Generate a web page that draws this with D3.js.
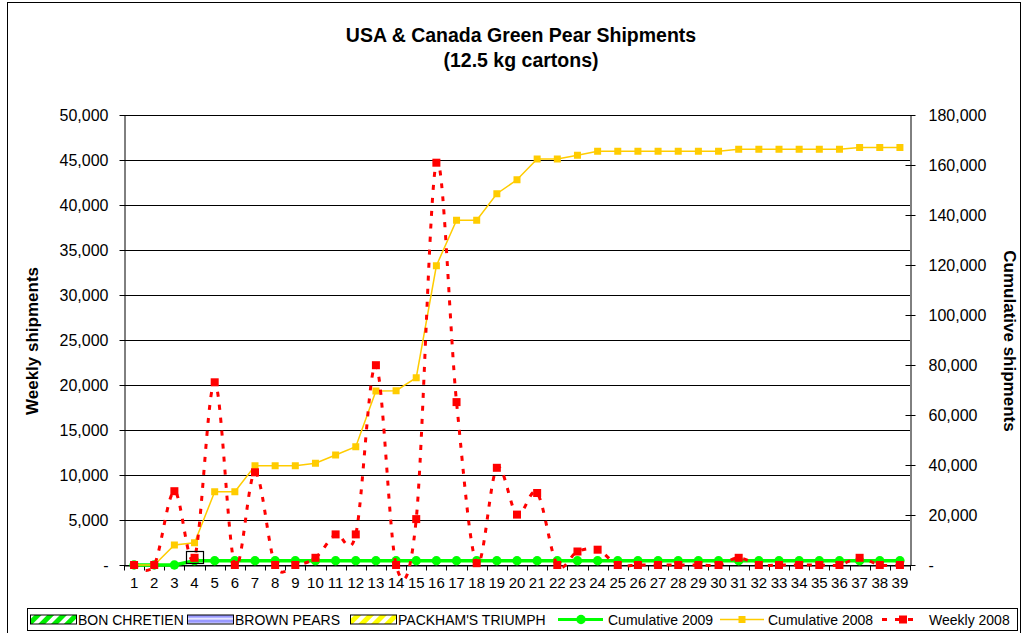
<!DOCTYPE html>
<html>
<head>
<meta charset="utf-8">
<script src="https://cdn.jsdelivr.net/npm/d3@7"></script>
<style>
  body { margin: 0; background: #fff; }
  svg { display: block; font-family: "Liberation Sans", Arial, sans-serif; }
</style>
</head>
<body>
<svg id="chart" width="1024" height="633"></svg>
<script>
// week numbers on the category axis
const weeks = d3.range(1, 40);

// variety bars (no shipments recorded in the period shown)
const bonChretien = [0,0,0,0,0,0,0,0,0,0,0,0,0,0,0,0,0,0,0,0,0,0,0,0,0,0,0,0,0,0,0,0,0,0,0,0,0,0,0];
const brownPears = [0,0,0,0,0,0,0,0,0,0,0,0,0,0,0,0,0,0,0,0,0,0,0,0,0,0,0,0,0,0,0,0,0,0,0,0,0,0,0];
const packhams = [0,0,0,0,0,0,0,0,0,0,0,0,0,0,0,0,0,0,0,0,0,0,0,0,0,0,0,0,0,0,0,0,0,0,0,0,0,0,0];

// right axis
const cumulative2009 = [0, 0, 0, 1700, 1700, 1700, 1700, 1700, 1700, 1700,
  1700, 1700, 1700, 1700, 1700, 1700, 1700, 1700, 1700, 1700,
  1700, 1700, 1700, 1700, 1700, 1700, 1700, 1700, 1700, 1700,
  1700, 1700, 1700, 1700, 1700, 1700, 1700, 1700, 1700];
const cumulative2008 = [0, 0, 8000, 8900, 29300, 29300, 39700, 39700, 39700, 40700,
  44000, 47300, 69600, 69700, 74900, 119700, 137900, 137900, 148500, 154100,
  162400, 162400, 163900, 165500, 165500, 165500, 165500, 165500, 165500, 165500,
  166300, 166300, 166300, 166300, 166300, 166300, 167000, 167000, 167000];

// left axis
const weekly2008 = [0, 0, 8200, 800, 20300, 0, 10300, 0, 0, 800,
  3400, 3400, 22200, 0, 5100, 44700, 18100, 200, 10800, 5600,
  8000, 0, 1500, 1700, 0, 0, 0, 0, 0, 0,
  800, 0, 0, 0, 0, 0, 800, 0, 0];

const leftTicks = [0, 5000, 10000, 15000, 20000, 25000, 30000, 35000, 40000, 45000, 50000];
const rightTicks = [0, 20000, 40000, 60000, 80000, 100000, 120000, 140000, 160000, 180000];

const titleLines = ["USA & Canada Green Pear Shipments", "(12.5 kg cartons)"];

const plot = { left: 124, right: 910, top: 115, bottom: 565 };
const svg = d3.select("#chart");

const x = d3.scaleBand().domain(weeks).range([plot.left, plot.right]);
const yLeft = d3.scaleLinear().domain([0, 50000]).range([plot.bottom, plot.top]);
const yRight = d3.scaleLinear().domain([0, 180000]).range([plot.bottom, plot.top]);
const cx = (week) => x(week) + x.bandwidth() / 2;
const numberFormat = (value) => (value === 0 ? "-" : d3.format(",")(value));

// fill patterns for the bar series
const defs = svg.append("defs");
function stripePattern(id, color, angle, size, stripe) {
  const pattern = defs.append("pattern")
    .attr("id", id)
    .attr("patternUnits", "userSpaceOnUse")
    .attr("width", size)
    .attr("height", size)
    .attr("patternTransform", `rotate(${angle})`);
  pattern.append("rect").attr("width", size).attr("height", size).attr("fill", "#fff");
  pattern.append("rect").attr("width", stripe).attr("height", size).attr("fill", color);
}
stripePattern("hatchGreen", "#00ee00", 45, 9, 5);
stripePattern("hatchYellow", "#ffff00", 45, 9, 5);
stripePattern("lineBlue", "#9999ff", 90, 5, 3.5);

// outer chart border
svg.append("rect")
  .attr("x", 7.5).attr("y", 2.5)
  .attr("width", 1013).attr("height", 660)
  .attr("fill", "none").attr("stroke", "#000").attr("stroke-width", 1);

// title
svg.append("g")
  .selectAll("text")
  .data(titleLines)
  .join("text")
  .attr("x", 521)
  .attr("y", (d, i) => 42 + i * 25)
  .attr("text-anchor", "middle")
  .attr("font-size", 19.5)
  .attr("font-weight", "bold")
  .text((d) => d);

// horizontal gridlines
svg.append("g")
  .selectAll("line")
  .data(leftTicks)
  .join("line")
  .attr("x1", plot.left).attr("x2", plot.right)
  .attr("y1", (d) => Math.round(yLeft(d)) + 0.5)
  .attr("y2", (d) => Math.round(yLeft(d)) + 0.5)
  .attr("stroke", "#000")
  .attr("stroke-width", 1);

// bars
const sub = d3.scaleBand().domain([0, 1, 2]).range([0, x.bandwidth()]).padding(0.1);
const barSeries = [
  { values: bonChretien, fill: "url(#hatchGreen)" },
  { values: brownPears, fill: "url(#lineBlue)" },
  { values: packhams, fill: "url(#hatchYellow)" },
];
barSeries.forEach((series, si) => {
  svg.append("g")
    .selectAll("rect")
    .data(series.values)
    .join("rect")
    .attr("x", (d, i) => x(weeks[i]) + sub(si))
    .attr("width", sub.bandwidth())
    .attr("y", (d) => yLeft(d))
    .attr("height", (d) => yLeft(0) - yLeft(d))
    .attr("fill", series.fill);
});

// left axis
const leftAxis = svg.append("g")
  .attr("transform", `translate(${plot.left + 0.5},0)`)
  .call(d3.axisLeft(yLeft).tickValues(leftTicks).tickSizeInner(5).tickSizeOuter(0).tickPadding(11).tickFormat(numberFormat));

// right axis, ticks cross the axis line
const rightAxis = svg.append("g")
  .attr("transform", `translate(${plot.right + 0.5},0)`)
  .call(d3.axisRight(yRight).tickValues(rightTicks).tickSizeInner(5).tickSizeOuter(0).tickPadding(13).tickFormat(numberFormat));
rightAxis.selectAll(".tick line").attr("x1", -5);

// category axis
const bottomAxis = svg.append("g")
  .attr("transform", `translate(0,${plot.bottom + 0.5})`)
  .call(d3.axisBottom(x).tickSize(0).tickPadding(12));
bottomAxis.append("g")
  .selectAll("line")
  .data(weeks.map((w) => x(w)).concat([plot.right]))
  .join("line")
  .attr("x1", (d) => Math.round(d) + 0.5)
  .attr("x2", (d) => Math.round(d) + 0.5)
  .attr("y1", 0)
  .attr("y2", 5)
  .attr("stroke", "#000");

[leftAxis, rightAxis, bottomAxis].forEach((axis) => {
  axis.select(".domain").attr("stroke", "#000");
  axis.selectAll(".tick line").attr("stroke", "#000");
  axis.selectAll("text").attr("fill", "#000").attr("font-family", "Liberation Sans, Arial, sans-serif");
});
leftAxis.selectAll("text").attr("font-size", 16);
rightAxis.selectAll("text").attr("font-size", 16);
bottomAxis.selectAll("text").attr("font-size", 15);

// axis titles
svg.append("text")
  .attr("transform", "translate(38,341) rotate(-90)")
  .attr("text-anchor", "middle")
  .attr("font-size", 17)
  .attr("font-weight", "bold")
  .text("Weekly shipments");

svg.append("text")
  .attr("transform", "translate(1004,341) rotate(90)")
  .attr("text-anchor", "middle")
  .attr("font-size", 17)
  .attr("font-weight", "bold")
  .text("Cumulative shipments");

// cumulative 2009
svg.append("path")
  .datum(cumulative2009)
  .attr("fill", "none")
  .attr("stroke", "#00ff00")
  .attr("stroke-width", 3.5)
  .attr("d", d3.line().x((d, i) => cx(weeks[i])).y((d) => yRight(d)));
svg.append("g")
  .selectAll("circle")
  .data(cumulative2009)
  .join("circle")
  .attr("cx", (d, i) => cx(weeks[i]))
  .attr("cy", (d) => yRight(d))
  .attr("r", 4.7)
  .attr("fill", "#00ff00");

// cumulative 2008
svg.append("path")
  .datum(cumulative2008)
  .attr("fill", "none")
  .attr("stroke", "#ffcc00")
  .attr("stroke-width", 1.5)
  .attr("d", d3.line().x((d, i) => cx(weeks[i])).y((d) => yRight(d)));
svg.append("g")
  .selectAll("rect")
  .data(cumulative2008)
  .join("rect")
  .attr("x", (d, i) => cx(weeks[i]) - 3.5)
  .attr("y", (d) => yRight(d) - 3.5)
  .attr("width", 7)
  .attr("height", 7)
  .attr("fill", "#ffcc00");

// weekly 2008, smoothed dashed line
svg.append("path")
  .datum(weekly2008)
  .attr("fill", "none")
  .attr("stroke", "#ff0000")
  .attr("stroke-width", 3)
  .attr("stroke-dasharray", "5,8")
  .attr("d", d3.line().curve(d3.curveCatmullRom.alpha(0)).x((d, i) => cx(weeks[i])).y((d) => yLeft(d)));
svg.append("g")
  .selectAll("rect")
  .data(weekly2008)
  .join("rect")
  .attr("x", (d, i) => cx(weeks[i]) - 4)
  .attr("y", (d) => yLeft(d) - 4)
  .attr("width", 8)
  .attr("height", 8)
  .attr("fill", "#ff0000");

// selection box left on the week 4 point
svg.append("rect")
  .attr("x", Math.round(cx(4) - 8.5) + 0.5)
  .attr("y", Math.round(yLeft(weekly2008[3]) - 6.5) + 0.5)
  .attr("width", 17)
  .attr("height", 12)
  .attr("fill", "none")
  .attr("stroke", "#000")
  .attr("stroke-width", 1.2);

// legend
const legendY = 619.5;
const legend = svg.append("g");
legend.append("rect")
  .attr("x", 27.5).attr("y", 608.5)
  .attr("width", 990).attr("height", 22)
  .attr("fill", "#fff").attr("stroke", "#000");

const legendItems = [
  { label: "BON CHRETIEN", kind: "bar", fill: "url(#hatchGreen)", x: 30 },
  { label: "BROWN PEARS", kind: "bar", fill: "url(#lineBlue)", x: 187 },
  { label: "PACKHAM'S TRIUMPH", kind: "bar", fill: "url(#hatchYellow)", x: 350 },
  { label: "Cumulative 2009", kind: "circle", color: "#00ff00", x: 558 },
  { label: "Cumulative 2008", kind: "square", color: "#ffcc00", x: 720 },
  { label: "Weekly 2008", kind: "dash", color: "#ff0000", x: 882 },
];
legendItems.forEach((item) => {
  const g = legend.append("g").attr("transform", `translate(${item.x},${legendY})`);
  let textX;
  if (item.kind === "bar") {
    g.append("rect")
      .attr("x", 0.5).attr("y", -4.5)
      .attr("width", 46).attr("height", 9)
      .attr("fill", item.fill).attr("stroke", "#000");
    textX = 48;
  } else if (item.kind === "circle") {
    g.append("line").attr("x1", 0).attr("x2", 45).attr("stroke", item.color).attr("stroke-width", 3);
    g.append("circle").attr("cx", 23).attr("r", 4.7).attr("fill", item.color);
    textX = 50;
  } else if (item.kind === "square") {
    g.append("line").attr("x1", 0).attr("x2", 44).attr("stroke", item.color).attr("stroke-width", 1.5);
    g.append("rect").attr("x", 18.5).attr("y", -3.5).attr("width", 7).attr("height", 7).attr("fill", item.color);
    textX = 48;
  } else {
    g.append("line").attr("x1", 0).attr("x2", 38).attr("stroke", item.color).attr("stroke-width", 3)
      .attr("stroke-dasharray", "5,8");
    g.append("rect").attr("x", 17).attr("y", -4).attr("width", 8).attr("height", 8).attr("fill", item.color);
    textX = 47;
  }
  g.append("text")
    .attr("x", textX)
    .attr("dy", "0.36em")
    .attr("font-size", 14)
    .attr("fill", "#000")
    .text(item.label);
});
</script>
</body>
</html>
